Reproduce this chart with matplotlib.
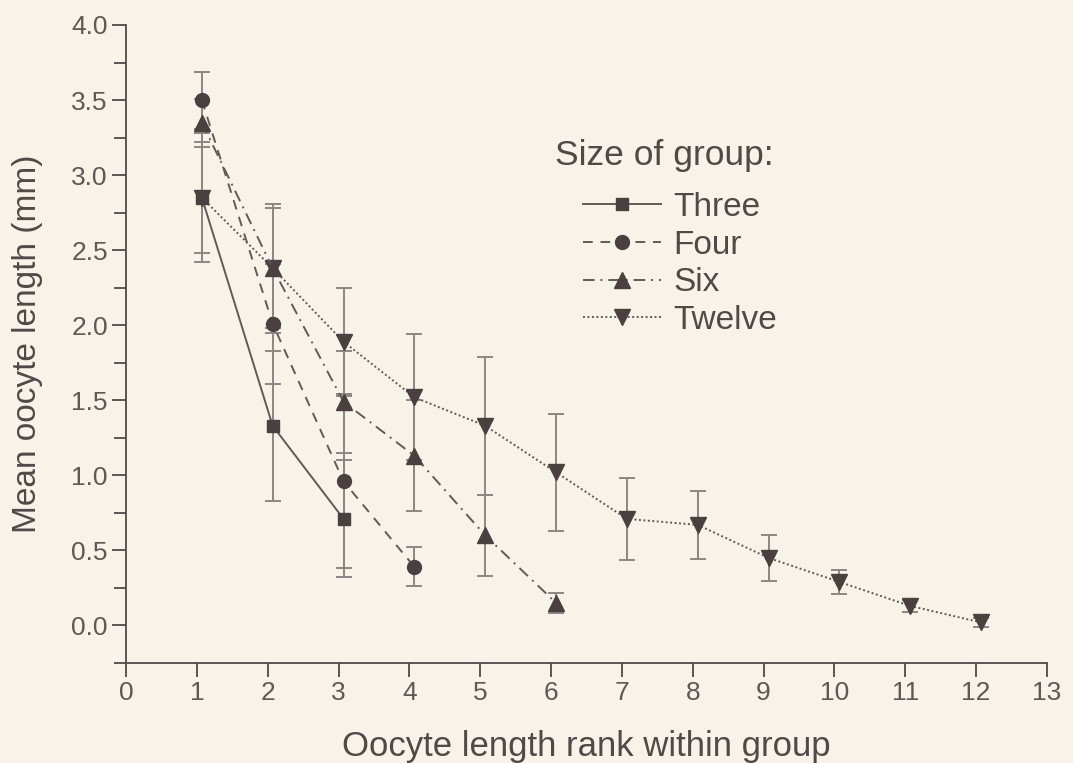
import numpy as np
import matplotlib
matplotlib.use("Agg")
import matplotlib.pyplot as plt
import matplotlib.transforms as mtransforms
from matplotlib.ticker import MultipleLocator, FormatStrFormatter

plt.rcParams["font.family"] = ["Liberation Sans", "DejaVu Sans"]

# rank within group -> mean oocyte length (mm) and error
three_x = [1, 2, 3]
three_y = [2.85, 1.33, 0.71]
three_err = [0.43, 0.50, 0.39]

four_x = [1, 2, 3, 4]
four_y = [3.50, 2.01, 0.96, 0.39]
four_err = [0.19, 0.40, 0.58, 0.13]

six_x = [1, 2, 3, 4, 5, 6]
six_y = [3.35, 2.38, 1.49, 1.13, 0.60, 0.15]
six_err = [0.16, 0.40, 0.34, 0.37, 0.27, 0.065]

twelve_x = [1, 2, 3, 4, 5, 6, 7, 8, 9, 10, 11, 12]
twelve_y = [2.85, 2.38, 1.89, 1.52, 1.33, 1.02, 0.71, 0.67, 0.45, 0.29, 0.13, 0.02]
twelve_err = [0.37, 0.43, 0.36, 0.42, 0.46, 0.39, 0.275, 0.225, 0.155, 0.08, 0.04, 0.03]

BG = "#f8f3e8"
TXT = "#4f4a48"
TICKTXT = "#5e5856"
MARK = "#4a4040"
LINE = "#625958"
ERR = "#8e8684"

fig = plt.figure(figsize=(10.73, 7.63), dpi=100, facecolor=BG)
ax = fig.add_axes([126 / 1073, 100 / 763, 921 / 1073, 638 / 763], facecolor=BG)

shift = ax.transData + mtransforms.ScaledTranslation(0.05, 0, fig.dpi_scale_trans)

series = [
    (twelve_x, twelve_y, twelve_err, "v", (0, (1, 1.3)), 11, "Twelve"),
    (six_x, six_y, six_err, "^", (0, (6, 3, 1, 3)), 11, "Six"),
    (four_x, four_y, four_err, "o", (0, (5, 4)), 10, "Four"),
    (three_x, three_y, three_err, "s", "-", 9, "Three"),
]
handles = {}
for xs, ys, es, mk, ls, ms, name in series:
    ax.errorbar(xs, ys, yerr=es, fmt="none", ecolor=ERR, elinewidth=1.4,
                capsize=6, capthick=1.4, transform=shift, zorder=2)
    h, = ax.plot(xs, ys, linestyle=ls, color=LINE, linewidth=1.4, marker=mk,
                 markersize=ms, markerfacecolor=MARK, markeredgecolor=MARK,
                 transform=shift, zorder=3, label=name)
    handles[name] = h

ax.set_xlim(0, 13)
ax.set_ylim(-0.25, 4.0)
ax.xaxis.set_major_locator(MultipleLocator(1))
ax.set_yticks(np.arange(0, 4.01, 0.5))
ax.yaxis.set_minor_locator(MultipleLocator(0.25))
ax.yaxis.set_major_formatter(FormatStrFormatter("%.1f"))

for side in ["top", "right"]:
    ax.spines[side].set_visible(False)
for side in ["left", "bottom"]:
    ax.spines[side].set_color(TXT)
    ax.spines[side].set_linewidth(1.3)
ax.tick_params(which="major", direction="out", length=10, width=1.3,
               color=TXT, labelcolor=TICKTXT, labelsize=19, pad=3)
ax.tick_params(which="minor", direction="out", length=9, width=1.3, color=TXT)

ax.set_xlabel("Oocyte length rank within group", fontsize=25, color=TXT)
ax.xaxis.set_label_coords(0.5, -0.105)
ax.set_ylabel("Mean oocyte length (mm)", fontsize=24, color=TXT)
ax.yaxis.set_label_coords(-0.09, 0.5)

ax.text(555 / 1073, 1 - 155 / 763, "Size of group:", transform=fig.transFigure,
        fontsize=25.5, color=TXT, va="center", ha="left")
order = ["Three", "Four", "Six", "Twelve"]
leg = ax.legend([handles[n] for n in order], order, loc="upper left",
                bbox_to_anchor=(583 / 1073, 1 - 192 / 763),
                bbox_transform=fig.transFigure, frameon=False, fontsize=24,
                handlelength=2.35, handletextpad=0.35, labelspacing=0.2,
                numpoints=1, borderpad=0, borderaxespad=0)
for t in leg.get_texts():
    t.set_color(TXT)

fig.savefig("out.png", dpi=100, facecolor=BG)
